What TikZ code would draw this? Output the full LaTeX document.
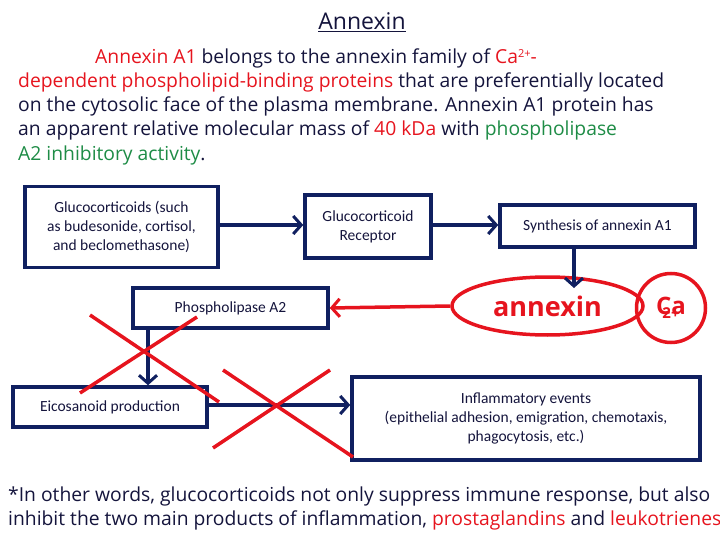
\documentclass[tikz,border=0pt]{standalone}
\usepackage{fontspec}
\setmainfont{Open Sans}
\newfontfamily\boxfont{Carlito}
\usetikzlibrary{arrows.meta,shapes.geometric}
\definecolor{navy}{RGB}{16,32,96}
\definecolor{txt}{RGB}{20,20,60}
\definecolor{rd}{RGB}{230,20,30}
\definecolor{gr}{RGB}{30,140,70}
\begin{document}
\begin{tikzpicture}[x=1pt,y=-1pt,
  bx/.style={draw=navy,line width=3.5pt,align=center,font=\boxfont\fontsize{15.5}{19}\selectfont,text=txt,inner sep=2pt},
  arr/.style={navy,line width=3.5pt,-{Straight Barb[length=8pt,width=18pt,line width=3pt]}},
  rarr/.style={rd,line width=3.5pt,-{Straight Barb[length=8pt,width=18pt,line width=3pt]}},
  cross/.style={rd,line width=3.5pt},
  para/.style={anchor=base west,inner sep=0pt,text=txt,font=\fontsize{19.3}{22}\selectfont}]
\useasboundingbox (0,0) rectangle (720,540);
\node[text=txt,font=\fontsize{23}{26}\selectfont] (title) at (362,22) {\underline{Annexin}};
\node[para] (l1) at (95,64) {\textcolor{rd}{Annexin A1} belongs to the annexin family of \textcolor{rd}{Ca\raisebox{0.6ex}{\fontsize{11}{11}\selectfont 2+}-}};
\node[para] (l2) at (18,88) {\textcolor{rd}{dependent phospholipid-binding proteins} that are preferentially located};
\node[para] (l3) at (18,112) {on the cytosolic face of the plasma membrane. Annexin A1 protein has};
\node[para] (l4) at (18,136) {an apparent relative molecular mass of \textcolor{rd}{40 kDa} with \textcolor{gr}{phospholipase}};
\node[para] (l5) at (18,161) {\textcolor{gr}{A2 inhibitory activity}.};

\node[bx,minimum width=193pt,minimum height=81pt] (gc) at (121.5,227) {Glucocorticoids (such\\as budesonide, cortisol,\\and beclomethasone)};
\node[bx,minimum width=126pt,minimum height=63pt] (gr) at (368,226.5) {Glucocorticoid\\Receptor};
\node[bx,minimum width=195pt,minimum height=42pt] (syn) at (597.5,226) {Synthesis of annexin A1};
\node[draw=rd,line width=3.5pt,ellipse,minimum width=191pt,minimum height=58pt,text=rd,font=\fontsize{27}{30}\selectfont\bfseries] (ann) at (547.5,306) {annexin};
\node[draw=rd,line width=3.5pt,circle,minimum size=69pt,inner sep=0pt,text=rd,align=center,font=\bfseries] (ca) at (671,308) {{\fontsize{24}{24}\selectfont Ca}\\[-8pt]{\fontsize{15}{15}\selectfont 2+}};
\node[bx,minimum width=195pt,minimum height=40pt] (pla) at (230.5,308) {Phospholipase A2};
\node[bx,minimum width=194pt,minimum height=40pt] (eic) at (110,407) {Eicosanoid production};
\node[bx,minimum width=348pt,minimum height=83pt] (inf) at (526,418.5) {Inflammatory events\\(epithelial adhesion, emigration, chemotaxis,\\phagocytosis, etc.)};

\draw[arr] (gc.east |- 0,225) -- (gr.west |- 0,225);
\draw[arr] (gr.east |- 0,225) -- (syn.west |- 0,225);
\draw[arr] (syn.south -| 574,0) -- (574,288);
\draw[rarr] (ann.west) -- (pla.east);
\draw[arr] (pla.south -| 148,0) -- (eic.north -| 148,0);
\draw[arr] (eic.east |- 0,405) -- (inf.west |- 0,405);

\coordinate (a1) at (90,315); \coordinate (a2) at (219,402);
\coordinate (b1) at (80,393); \coordinate (b2) at (197,317);
\draw[cross] (a1) -- (a2); \draw[cross] (b1) -- (b2);
\coordinate (c1) at (223,370); \coordinate (c2) at (353,457);
\coordinate (d1) at (213,448); \coordinate (d2) at (330,370);
\draw[cross] (c1) -- (c2); \draw[cross] (d1) -- (d2);

\node[para] (f1) at (8,501) {*In other words, glucocorticoids not only suppress immune response, but also};
\node[para] (f2) at (8,525) {inhibit the two main products of inflammation, \textcolor{rd}{prostaglandins} and \textcolor{rd}{leukotrienes}.};
\end{tikzpicture}
\end{document}
